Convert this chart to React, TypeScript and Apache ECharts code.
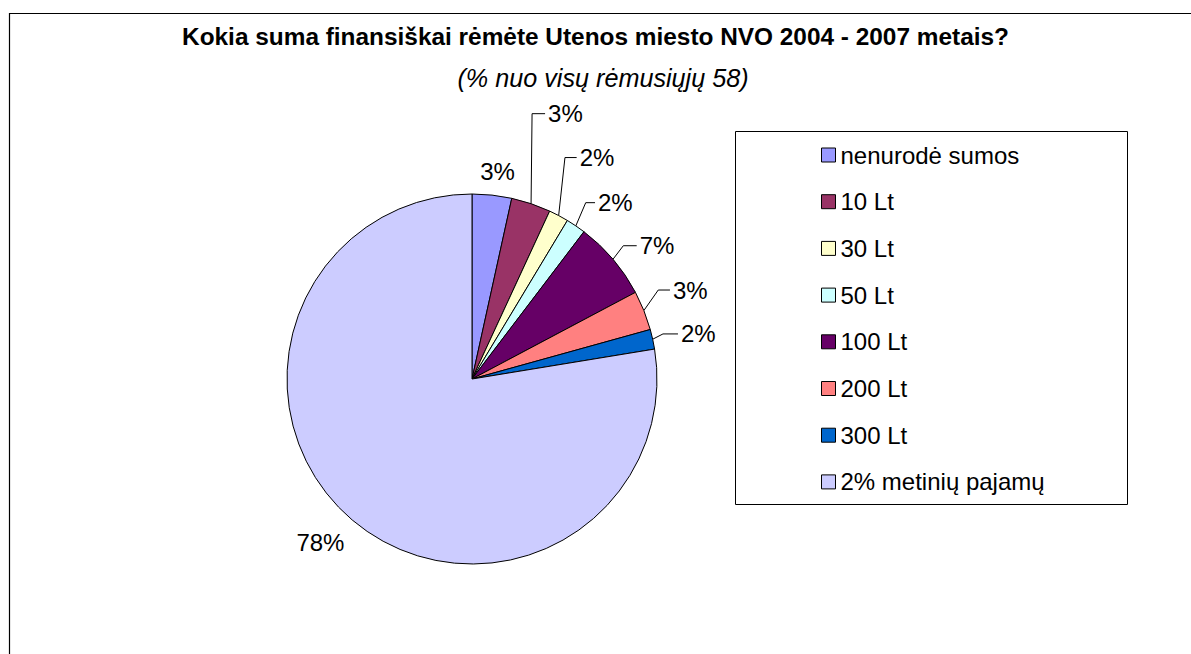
import React, { useEffect, useRef } from "react";
import * as echarts from "echarts";

const TITLE = "Kokia suma finansiškai rėmėte Utenos miesto NVO 2004 - 2007 metais?";
const SUBTITLE = "(% nuo visų rėmusiųjų 58)";
const CATEGORIES = [
  "nenurodė sumos",
  "10 Lt",
  "30 Lt",
  "50 Lt",
  "100 Lt",
  "200 Lt",
  "300 Lt",
  "2% metinių pajamų",
];
const COUNTS = [2, 2, 1, 1, 4, 2, 1, 45];
const COLORS = ["#9999FF", "#993366", "#FFFFCC", "#CCFFFF", "#660066", "#FF8080", "#0066CC", "#CCCCFF"];

// label placement styles (offset of leader-line elbow from the slice edge, tail length)
const LABEL_STYLE = [
  { dx: 5.5, dy: -24, len: 0, line: false },
  { dx: 1, dy: -90, len: 13, line: true },
  { dx: 6.3, dy: -58, len: 11.7, line: true },
  { dx: 9.9, dy: -23.2, len: 9.3, line: true },
  { dx: 10.3, dy: -13.5, len: 13.4, line: true },
  { dx: 14.4, dy: -20.5, len: 11.7, line: true },
  { dx: 10.3, dy: -5.3, len: 15, line: true },
  { dx: -31.8, dy: 22, len: 0, line: false },
];

const CENTER = [472, 379];
const RADIUS = 185;
const FONT = "'Liberation Sans', Arial, Helvetica, sans-serif";

export default function App() {
  const ref = useRef<HTMLDivElement>(null);
  useEffect(() => {
    if (!ref.current) return;
    const chart = echarts.init(ref.current, null, { renderer: "svg" });
    const total = COUNTS.reduce((a, b) => a + b, 0);
    const edge = (i: number) => {
      let before = 0;
      for (let k = 0; k < i; k++) before += COUNTS[k];
      const mid = ((before + COUNTS[i] / 2) / total) * Math.PI * 2;
      return [CENTER[0] + RADIUS * Math.sin(mid), CENTER[1] - RADIUS * Math.cos(mid)];
    };
    chart.setOption({
      animation: false,
      backgroundColor: "#ffffff",
      title: {
        text: TITLE,
        left: "center",
        top: 24.5,
        padding: [0, 0, 0, 2],
        textStyle: { fontFamily: FONT, fontSize: 24.4, fontWeight: "bold", color: "#000", lineHeight: 24 },
      },
      legend: {
        orient: "vertical",
        left: 821,
        top: 143,
        padding: 0,
        itemWidth: 14,
        itemHeight: 14,
        itemGap: 22.7,
        icon: "rect",
        itemStyle: { borderColor: "#000", borderWidth: 1 },
        textStyle: { fontFamily: FONT, fontSize: 24, color: "#000", lineHeight: 24 },
        data: CATEGORIES,
      },
      graphic: [
        {
          type: "rect",
          shape: { x: 9.5, y: 13.5, width: 2000, height: 2000 },
          style: { fill: "none", stroke: "#000", lineWidth: 1.2 },
          silent: true,
        },
        {
          type: "rect",
          shape: { x: 735.5, y: 131.5, width: 392, height: 373 },
          style: { fill: "none", stroke: "#000", lineWidth: 1 },
          silent: true,
        },
        {
          type: "text",
          x: 603,
          y: 78,
          silent: true,
          style: {
            text: SUBTITLE,
            fontFamily: FONT,
            fontSize: 25.2,
            fontStyle: "italic",
            fill: "#000",
            align: "center",
            verticalAlign: "middle",
          },
        },
      ],
      series: [
        {
          type: "pie",
          center: CENTER,
          radius: RADIUS,
          startAngle: 90,
          clockwise: true,
          avoidLabelOverlap: false,
          percentPrecision: 0,
          itemStyle: { borderColor: "#000", borderWidth: 1 },
          label: {
            show: true,
            position: "outside",
            formatter: "{d}%",
            fontFamily: FONT,
            fontSize: 24,
            color: "#000",
          },
          labelLine: { show: true, lineStyle: { color: "#000", width: 1 } },
          labelLayout: (params: any) => {
            const i = params.dataIndex;
            const s = LABEL_STYLE[i];
            const [ex, ey] = edge(i);
            if (!s.line) {
              return { x: ex + s.dx, y: ey + s.dy, align: "center", verticalAlign: "middle" };
            }
            const bx = ex + s.dx;
            const by = ey + s.dy;
            const tx = bx + s.len;
            return {
              x: tx + 3,
              y: by,
              align: "left",
              verticalAlign: "middle",
              labelLinePoints: [
                [ex, ey],
                [bx, by],
                [tx, by],
              ],
            };
          },
          emphasis: { disabled: true },
          data: CATEGORIES.map((name, i) => ({
            name,
            value: COUNTS[i],
            itemStyle: { color: COLORS[i] },
            labelLine: { show: LABEL_STYLE[i].line },
          })),
        },
      ],
    });
    return () => chart.dispose();
  }, []);
  return (
    <div
      ref={ref}
      style={{ position: "fixed", left: 0, top: 0, width: 1191, height: 654, background: "#fff" }}
    />
  );
}
